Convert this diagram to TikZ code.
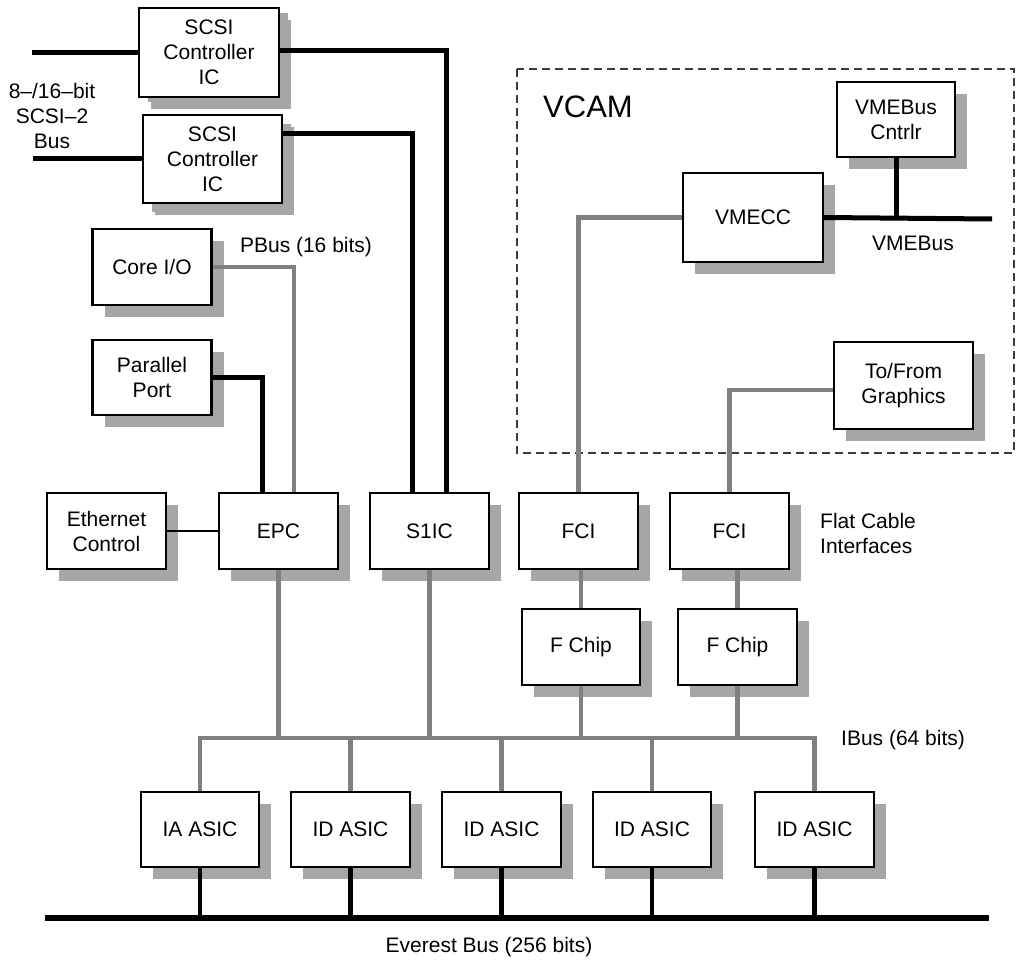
\documentclass[tikz,border=0pt]{standalone}
\usepackage{fontspec}
\setmainfont{Liberation Sans}
\usetikzlibrary{shadows}
\definecolor{busgray}{RGB}{128,128,128}
\definecolor{shadowgray}{RGB}{166,166,166}
\definecolor{dashgray}{RGB}{60,60,60}
\begin{document}
\begin{tikzpicture}[x=1pt,y=-1pt,
  box/.style={draw, line width=2.4pt, fill=white, minimum width=119pt, minimum height=76pt,
    align=center, inner sep=0pt, font=\fontsize{21}{25}\selectfont,
    general shadow={fill=shadowgray, shadow xshift=12pt, shadow yshift=-12pt}},
  lbl/.style={font=\fontsize{21}{25}\selectfont, align=center, inner sep=0pt},
  gbus/.style={draw=busgray, line width=4.6pt},
  kbus/.style={draw=black, line width=5pt},
  thinline/.style={draw=black, line width=2.3pt},
  evbus/.style={draw=black, line width=6pt},
  vcambox/.style={draw=dashgray, line width=1.3pt, dash pattern=on 8pt off 5pt}]
\useasboundingbox (0,0) rectangle (1019,960);

% VCAM region
\draw[vcambox] (517,69) rectangle (1014,453);
\node[lbl, anchor=west, font=\fontsize{31}{36}\selectfont] (vcam) at (543,107) {VCAM};

% SCSI controllers
\node[box, minimum width=140pt, minimum height=89pt,
  general shadow={fill=shadowgray, shadow xshift=9pt, shadow yshift=-5pt}] (scsi1) at (209,52.5) {SCSI\\Controller\\IC};
\node[box, minimum width=139pt, minimum height=88pt,
  general shadow={fill=shadowgray, shadow xshift=9pt, shadow yshift=-9pt}] (scsi2) at (212.5,159) {SCSI\\Controller\\IC};

\node[box] (coreio) at (152,267) {Core I/O};
\node[box, minimum height=75pt] (par) at (152,377.5) {Parallel\\Port};
\node[box] (eth) at (106.5,531) {Ethernet\\Control};
\node[box] (epc) at (278.5,531) {EPC};
\node[box] (s1ic) at (429.5,531) {S1IC};
\node[box] (fci1) at (578.5,531) {FCI};
\node[box] (fci2) at (729.5,531) {FCI};
\node[box, minimum width=118pt] (fchip1) at (581,647) {F Chip};
\node[box] (fchip2) at (737.5,647) {F Chip};

\node[box, minimum width=118pt, minimum height=75pt] (ia) at (200,829.5) {IA ASIC};
\node[box, minimum height=75pt] (id1) at (350.5,829.5) {ID ASIC};
\node[box, minimum height=75pt] (id2) at (501.5,829.5) {ID ASIC};
\node[box, minimum width=118pt, minimum height=75pt] (id3) at (652,829.5) {ID ASIC};
\node[box, minimum height=75pt] (id4) at (814.5,829.5) {ID ASIC};

\node[box, minimum width=140pt, minimum height=89pt] (vmecc) at (753,217.5) {VMECC};
\node[box, minimum width=118pt, minimum height=75pt] (vmectl) at (896,119.5) {VMEBus\\Cntrlr};
\node[box, minimum width=139pt, minimum height=87pt] (gfx) at (903.5,385.5) {To/From\\Graphics};

% labels
\node[lbl] (scsilbl) at (52,115.5) {8–/16–bit\\SCSI–2\\Bus};
\node[lbl] (pbuslbl) at (306,247) {PBus (16 bits)};
\node[lbl] (vmebuslbl) at (913,243) {VMEBus};
\node[lbl, anchor=west, align=left] (fcilbl) at (820,533) {Flat Cable\\Interfaces};
\node[lbl, anchor=west] (ibuslbl) at (841,740) {IBus (64 bits)};
\node[lbl] (evlbl) at (489,947) {Everest Bus (256 bits)};

% coordinates
\coordinate (s1in) at (32,52.5);
\coordinate (s2in) at (33,159);
\coordinate (vmeend) at (992,219);
\coordinate (ibl) at (200,738);
\coordinate (ibr) at (814.5,738);
\coordinate (evl) at (45,918);
\coordinate (evr) at (989,918);

% SCSI bus
\draw[kbus] (s1in) -- (scsi1.west);
\draw[kbus] (s2in) -- (scsi2.west);
\draw[kbus] ([yshift=1.5pt]scsi1.east) -| ([xshift=16.5pt]s1ic.north);
\draw[kbus] ([yshift=25pt]scsi2.east) -| ([xshift=-17.5pt]s1ic.north);

% PBus
\draw[gbus] (coreio.east) -| ([xshift=15.5pt]epc.north);
\draw[kbus] (par.east) -| ([xshift=-16.5pt]epc.north);
\draw[thinline] (eth.east) -- (epc.west);

% VCAM connections
\draw[gbus] (vmecc.west) -| (fci1.north);
\draw[gbus] ([yshift=-4.5pt]gfx.west) -| (fci2.north);
\draw[kbus] (vmecc.east) -- (vmeend);
\draw[kbus] (vmectl.south) -- (vmectl.south |- vmeend);

% FCI to F chip
\draw[gbus] (fci1.south -| fchip1) -- (fchip1.north);
\draw[gbus] (fci2.south -| fchip2) -- (fchip2.north);

% IBus
\draw[gbus] (epc.south) -- (epc.south |- ibl);
\draw[gbus] (s1ic.south) -- (s1ic.south |- ibl);
\draw[gbus] (fchip1.south) -- (fchip1.south |- ibl);
\draw[gbus] (fchip2.south) -- (fchip2.south |- ibl);
\draw[gbus] (ia.north) -- (ibl) -- (ibr) -- (id4.north);
\foreach \n in {id1,id2,id3}
  \draw[gbus] (\n.north) -- (\n.north |- ibl);

% Everest bus
\draw[evbus] (evl) -- (evr);
\foreach \n in {ia,id1,id2,id3,id4}
  \draw[kbus, line width=4.6pt] (\n.south) -- (\n.south |- evl);
\end{tikzpicture}
\end{document}
